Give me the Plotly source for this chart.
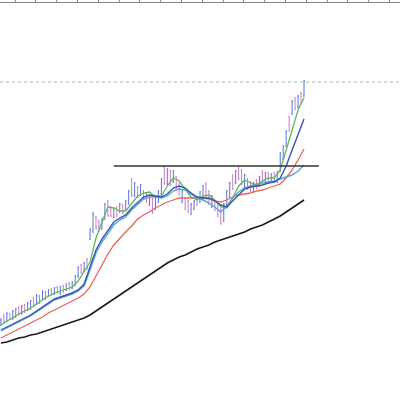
import plotly.graph_objects as go

# ---- price bars (bar index 0..102) ----
bar_high = [82, 86, 88, 87, 90, 92, 94, 95, 96, 98,
            100, 103, 106, 105, 110, 109, 111, 112, 113, 114,
            114, 115, 117, 118, 119, 125, 134, 136, 138, 142,
            172, 188, 184, 180, 182, 197, 200, 194, 193, 194,
            197, 196, 200, 210, 222, 218, 214, 216, 210, 207,
            204, 202, 203, 210, 222, 234, 232, 230, 230, 224,
            217, 210, 203, 200, 197, 200, 204, 209, 215, 218,
            210, 205, 200, 197, 192, 197, 210, 218, 226, 230,
            234, 231, 226, 222, 219, 218, 221, 224, 230, 228,
            228, 227, 228, 229, 248, 255, 270, 284, 300, 303,
            305, 308, 320]
bar_low = [74, 76, 78, 80, 80, 82, 84, 85, 87, 89,
           90, 93, 95, 96, 100, 100, 103, 104, 105, 106,
           105, 107, 109, 110, 111, 114, 122, 126, 128, 130,
           160, 167, 170, 168, 170, 180, 183, 183, 182, 183,
           187, 186, 190, 195, 203, 203, 202, 204, 200, 197,
           194, 186, 190, 197, 205, 215, 215, 214, 217, 210,
           204, 197, 190, 187, 185, 190, 194, 197, 200, 203,
           195, 192, 189, 183, 175, 178, 193, 202, 210, 216,
           220, 215, 212, 210, 208, 207, 211, 213, 217, 218,
           218, 218, 217, 217, 228, 240, 253, 268, 285, 290,
           292, 296, 303]
bar_open = [75, 85, 79, 86, 82, 84, 93, 86, 95, 90,
            91, 102, 96, 104, 101, 108, 104, 111, 106, 113,
            107, 114, 110, 117, 112, 115, 124, 135, 129, 141,
            161, 169, 183, 178, 171, 182, 199, 193, 183, 193,
            188, 195, 191, 196, 221, 204, 213, 205, 209, 206,
            195, 201, 191, 198, 206, 233, 216, 229, 218, 223,
            216, 198, 202, 199, 186, 191, 203, 198, 201, 217,
            209, 193, 199, 196, 191, 179, 194, 203, 225, 217,
            233, 230, 213, 221, 218, 208, 220, 214, 229, 219,
            227, 219, 227, 218, 229, 241, 254, 283, 286, 302,
            293, 307, 304]
bar_close = [80, 78, 86, 81, 89, 91, 86, 94, 88, 97,
             99, 95, 104, 97, 108, 102, 110, 105, 112, 107,
             113, 108, 116, 111, 118, 124, 133, 127, 137, 132,
             171, 186, 172, 170, 181, 196, 185, 184, 192, 184,
             196, 187, 199, 209, 205, 217, 203, 215, 201, 198,
             203, 188, 202, 209, 221, 217, 231, 215, 229, 211,
             205, 209, 191, 188, 196, 199, 195, 208, 214, 204,
             196, 204, 190, 184, 177, 196, 209, 217, 211, 229,
             221, 216, 225, 211, 209, 217, 212, 223, 218, 227,
             219, 226, 218, 228, 247, 254, 269, 269, 299, 291,
             304, 297, 319]
bar_index = list(range(len(bar_high)))

# ---- moving averages, sampled every 2 bars ----
ma_index = list(range(0, 103, 2))
ma_fast = [75, 79, 82, 86, 89, 92, 96, 100, 104, 107,
           109, 111, 113, 119, 128, 138, 162, 178, 193, 192,
           189, 189, 196, 204, 207, 208, 203, 204, 214, 222,
           219, 211, 203, 200, 204, 205, 200, 193, 192, 202,
           214, 220, 217, 215, 219, 222, 222, 230, 250, 272,
           290, 302]
ma_mid = [70, 73, 76, 79, 82, 85, 89, 93, 97, 101,
          103, 105, 107, 110, 116, 133, 150, 161, 170, 178,
          182, 185, 192, 198, 203, 205, 204, 203, 206, 212,
          214, 212, 207, 203, 202, 202, 199, 195, 193, 199,
          206, 211, 213, 214, 215, 217, 218, 222, 234, 250,
          266, 281]
ma_light = [69, 72, 75, 78, 81, 84, 88, 92, 96, 100,
            102, 104, 106, 109, 114, 130, 147, 158, 167, 175,
            180, 183, 190, 196, 201, 203, 203, 202, 204, 209,
            211, 210, 206, 202, 200, 197, 193, 188, 194, 202,
            208, 212, 214, 216, 217, 218, 219, 221, 223, 225,
            229, 235]
ma_slow = [62, 65, 68, 71, 74, 77, 80, 83, 87, 90,
           93, 96, 99, 102, 106, 113, 124, 135, 146, 155,
           162, 168, 174, 181, 185, 188, 192, 195, 198, 200,
           202, 202, 202, 202, 202, 201, 199, 198, 200, 203,
           205, 206, 207, 209, 210, 212, 214, 216, 222, 230,
           240, 251]
ma_long = [57, 58, 60, 62, 63, 65, 66, 68, 70, 72,
           74, 76, 78, 80, 82, 85, 89, 93, 97, 101,
           105, 109, 113, 117, 121, 125, 129, 133, 137, 140,
           143, 145, 148, 151, 153, 155, 158, 160, 162, 164,
           166, 168, 171, 173, 175, 178, 181, 184, 188, 192,
           196, 200]

resistance_level = 234
resistance_from, resistance_to = 38, 107
high_mark_level = 318

tick_start, tick_step = 4.75, 7

fig = go.Figure()

fig.add_trace(go.Scatter(x=ma_index, y=ma_long, mode="lines",
                         line=dict(color="#1a1a1a", width=1.6), hoverinfo="skip"))
fig.add_trace(go.Scatter(x=ma_index, y=ma_slow, mode="lines",
                         line=dict(color="#e8645e", width=1.3), hoverinfo="skip"))
fig.add_trace(go.Scatter(x=ma_index, y=ma_light, mode="lines",
                         line=dict(color="#5aa6dc", width=1.4), hoverinfo="skip"))

fig.add_trace(go.Ohlc(x=bar_index, open=bar_open, high=bar_high, low=bar_low, close=bar_close,
                      increasing=dict(line=dict(color="#5a74dc", width=1)),
                      decreasing=dict(line=dict(color="#d678c8", width=1)),
                      tickwidth=0.3, hoverinfo="skip"))

fig.add_trace(go.Scatter(x=ma_index, y=ma_fast, mode="lines",
                         line=dict(color="#5cb85c", width=1.3), hoverinfo="skip"))
fig.add_trace(go.Scatter(x=ma_index, y=ma_mid, mode="lines",
                         line=dict(color="#3454b4", width=1.4), hoverinfo="skip"))

fig.add_trace(go.Scatter(x=[resistance_from, resistance_to],
                         y=[resistance_level, resistance_level], mode="lines",
                         line=dict(color="#333333", width=1.3), hoverinfo="skip"))

fig.add_shape(type="line", xref="paper", x0=0, x1=1, yref="y",
              y0=high_mark_level, y1=high_mark_level,
              line=dict(color="#a8b0bc", width=1, dash="dot"))

fig.update_layout(
    width=400, height=400,
    margin=dict(l=0, r=0, t=3, b=0),
    paper_bgcolor="white", plot_bgcolor="white",
    showlegend=False,
    xaxis=dict(range=[-0.3, 134.3], side="top", showline=True, linecolor="#8a8a8a",
               linewidth=1, ticks="outside", ticklen=3, tickcolor="#8a8a8a",
               tick0=tick_start, dtick=tick_step, showticklabels=False,
               showgrid=False, zeroline=False, rangeslider=dict(visible=False)),
    yaxis=dict(range=[0, 397], visible=False, showgrid=False, zeroline=False),
)

fig.write_html("out.html", config={"displayModeBar": False},
               post_script="document.body.style.margin='0';document.body.style.overflow='hidden';")
